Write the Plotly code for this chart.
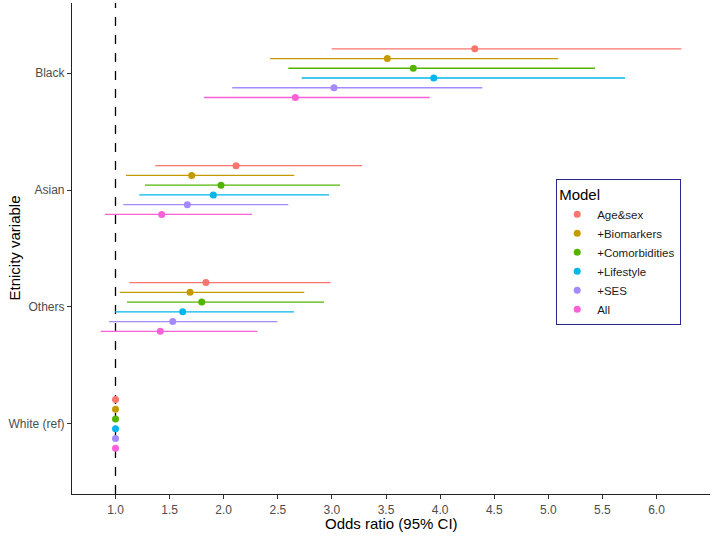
import plotly.graph_objects as go

categories = ["White (ref)", "Others", "Asian", "Black"]
models = ["Age&sex", "+Biomarkers", "+Comorbidities", "+Lifestyle", "+SES", "All"]
colors = ["#F8766D", "#C49A00", "#53B400", "#00B6EB", "#A58AFF", "#FB61D7"]

# odds ratios per model, order: White, Others, Asian, Black
or_est = {
    "Age&sex":        [1.0, 1.836, 2.114, 4.320],
    "+Biomarkers":    [1.0, 1.689, 1.704, 3.512],
    "+Comorbidities": [1.0, 1.797, 1.975, 3.752],
    "+Lifestyle":     [1.0, 1.621, 1.904, 3.941],
    "+SES":           [1.0, 1.529, 1.664, 3.019],
    "All":            [1.0, 1.414, 1.427, 2.662],
}
ci_low = {
    "Age&sex":        [1.0, 1.128, 1.368, 2.998],
    "+Biomarkers":    [1.0, 1.039, 1.097, 2.428],
    "+Comorbidities": [1.0, 1.106, 1.273, 2.597],
    "+Lifestyle":     [1.0, 0.995, 1.220, 2.721],
    "+SES":           [1.0, 0.940, 1.072, 2.079],
    "All":            [1.0, 0.863, 0.903, 1.818],
}
ci_high = {
    "Age&sex":        [1.0, 2.989, 3.278, 6.229],
    "+Biomarkers":    [1.0, 2.745, 2.652, 5.090],
    "+Comorbidities": [1.0, 2.927, 3.074, 5.432],
    "+Lifestyle":     [1.0, 2.650, 2.973, 5.709],
    "+SES":           [1.0, 2.496, 2.597, 4.390],
    "All":            [1.0, 2.311, 2.262, 3.904],
}
x_ticks = [1.0, 1.5, 2.0, 2.5, 3.0, 3.5, 4.0, 4.5, 5.0, 5.5, 6.0]

dodge = 0.5
n = len(models)
fig = go.Figure()

fig.add_shape(type="line", xref="x", yref="paper", x0=1, x1=1, y0=0, y1=1,
              line=dict(color="black", width=1.3, dash="dash"), layer="below")

for i, m in enumerate(models):
    off = ((n - 1) / 2 - i) * dodge / n
    ys = [k + 1 + off for k in range(len(categories))]
    est = or_est[m]
    plus = [h - e for h, e in zip(ci_high[m], est)]
    minus = [e - l for e, l in zip(est, ci_low[m])]
    fig.add_trace(go.Scatter(
        x=est, y=ys, mode="markers", name=m,
        marker=dict(color=colors[i], size=7),
        error_x=dict(type="data", symmetric=False, array=plus, arrayminus=minus,
                     color=colors[i], thickness=1.3, width=0),
    ))

L, R, T, B = 72, 4, 3, 46
W, H = 714, 540
pw, ph = W - L - R, H - T - B

fig.update_layout(
    width=W, height=H,
    margin=dict(l=L, r=R, t=T, b=B),
    plot_bgcolor="white", paper_bgcolor="white",
    font=dict(family="Liberation Sans, Arial, sans-serif", color="#4d4d4d"),
    showlegend=True,
    legend=dict(
        title=dict(text="Model", font=dict(size=15, color="black")),
        x=(556 - L) / pw, y=1 - (179 - T) / ph, xanchor="left", yanchor="top",
        bordercolor="#2a2a8c", borderwidth=1.2, bgcolor="white",
        font=dict(size=11.5, color="#1a1a1a"),
        tracegroupgap=0, itemwidth=30,
    ),
    xaxis=dict(
        range=[0.598, 6.494], tickvals=x_ticks,
        ticktext=[f"{v:.1f}" for v in x_ticks],
        showgrid=False, zeroline=False, automargin=False,
        showline=True, linecolor="#222", linewidth=1.2,
        ticks="outside", ticklen=4, tickcolor="#333", tickfont=dict(size=12, color="#4d4d4d"),
    ),
    yaxis=dict(
        range=[0.4, 4.6], tickvals=[1, 2, 3, 4], ticktext=categories,
        showgrid=False, zeroline=False, automargin=False,
        showline=True, linecolor="#222", linewidth=1.2,
        ticks="outside", ticklen=4, tickcolor="#333", tickfont=dict(size=12, color="#4d4d4d"),
    ),
    annotations=[
        dict(text="Odds ratio (95% CI)", xref="paper", yref="paper",
             x=0.5, y=-(523 - (T + ph)) / ph, xanchor="center", yanchor="middle",
             showarrow=False, font=dict(size=15, color="black")),
        dict(text="Etnicity variable", xref="paper", yref="paper",
             x=-(L - 14) / pw, y=0.5, xanchor="center", yanchor="middle", textangle=-90,
             showarrow=False, font=dict(size=15, color="black")),
    ],
)

fig.write_html("out.html", config={"displayModeBar": False},
               post_script="document.body.style.margin='0';document.body.style.overflow='hidden';")
